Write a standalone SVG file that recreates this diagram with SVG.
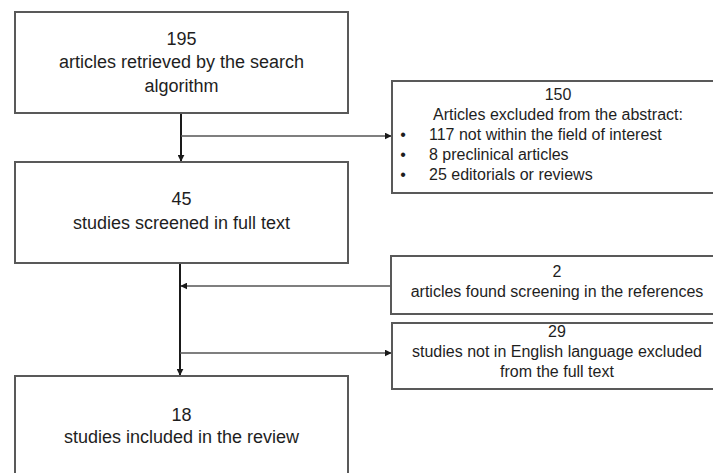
<svg xmlns="http://www.w3.org/2000/svg" width="713" height="473" viewBox="0 0 713 473">
<defs>
<style>
.box{fill:#fff;stroke:#595959;stroke-width:2}
.t{font-family:"Liberation Sans",Arial,sans-serif;fill:#1e1e1e;text-anchor:middle}
.big{font-size:18px}
.small{font-size:16px}
.l{text-anchor:start}
.main{stroke:#1a1a1a;stroke-width:2;fill:none}
.side{stroke:#555;stroke-width:1.6;fill:none}
</style>
<marker id="ah" viewBox="0 0 10 10" refX="9" refY="5" markerWidth="7" markerHeight="7" markerUnits="userSpaceOnUse" orient="auto">
<path d="M0,0 L10,5 L0,10 z" fill="#1a1a1a"/>
</marker>
</defs>
<rect width="713" height="473" fill="#fff"/>
<g id="connectors">
<line class="main" x1="181" y1="113" x2="181" y2="161" marker-end="url(#ah)"/>
<line class="side" x1="181" y1="136" x2="391" y2="136" marker-end="url(#ah)"/>
<line class="main" x1="180" y1="263" x2="180" y2="375" marker-end="url(#ah)"/>
<line class="side" x1="391" y1="286" x2="181" y2="286" marker-end="url(#ah)"/>
<line class="side" x1="180" y1="353" x2="391" y2="353" marker-end="url(#ah)"/>
</g>
<g id="n1">
<rect class="box" x="15" y="12" width="333" height="101"/>
<text class="t big" x="181.5" y="45">195</text>
<text class="t big" x="181.5" y="68">articles retrieved by the search</text>
<text class="t big" x="181.5" y="92">algorithm</text>
</g>
<g id="n2">
<rect class="box" x="392" y="81" width="332" height="112"/>
<text class="t small" x="558" y="100">150</text>
<text class="t small" x="558" y="120">Articles excluded from the abstract:</text>
<text class="t small" x="403" y="140">•</text>
<text class="t small l" x="429" y="140">117 not within the field of interest</text>
<text class="t small" x="403" y="160">•</text>
<text class="t small l" x="429" y="160">8 preclinical articles</text>
<text class="t small" x="403" y="180">•</text>
<text class="t small l" x="429" y="180">25 editorials or reviews</text>
</g>
<g id="n3">
<rect class="box" x="15" y="162" width="333" height="101"/>
<text class="t big" x="181.5" y="205">45</text>
<text class="t big" x="181.5" y="229">studies screened in full text</text>
</g>
<g id="n4">
<rect class="box" x="391" y="256" width="333" height="58"/>
<text class="t small" x="557" y="277">2</text>
<text class="t small" x="557" y="297">articles found screening in the references</text>
</g>
<g id="n5">
<rect class="box" x="392" y="323" width="332" height="66"/>
<text class="t small" x="557" y="337">29</text>
<text class="t small" x="557" y="357">studies not in English language excluded</text>
<text class="t small" x="557" y="377">from the full text</text>
</g>
<g id="n6">
<rect class="box" x="15" y="376" width="333" height="110"/>
<text class="t big" x="181.5" y="421">18</text>
<text class="t big" x="181.5" y="443">studies included in the review</text>
</g>
</svg>
